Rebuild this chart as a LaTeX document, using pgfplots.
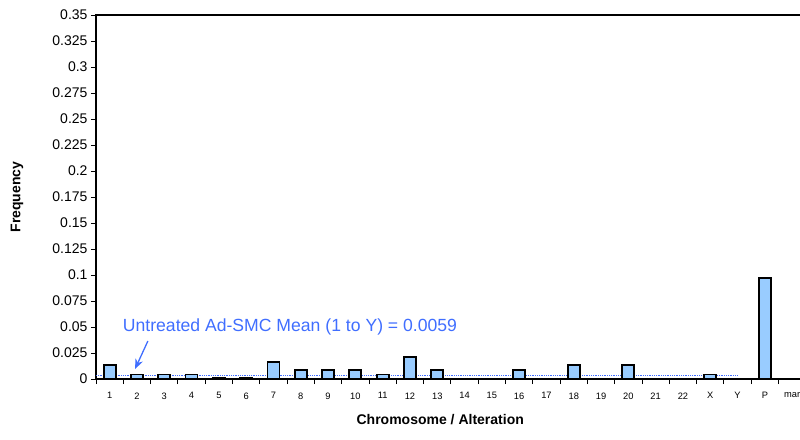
\documentclass[border=0pt]{standalone}
\usepackage{pgfplots}
\pgfplotsset{compat=1.18}
\usetikzlibrary{arrows.meta}
\usepackage{fontspec}
\setmainfont{Liberation Sans}
\definecolor{barblue}{RGB}{153,204,255}
\definecolor{annblue}{RGB}{64,110,255}
\begin{document}
\begin{tikzpicture}
\clip (-96pt,-60pt) rectangle (704pt,379pt);
\begin{scope}[overlay]
\begin{axis}[
  at={(0pt,0pt)}, anchor=south west,
  scale only axis, width=709.8pt, height=364pt,
  xmin=-0.5, xmax=25.5, ymin=0, ymax=0.35,
  axis line style={line width=1.2pt},
  tick pos=left, tick align=outside,
  major tick length=5pt,
  tick style={line width=0.9pt, black},
  /pgf/number format/assume math mode=true,
  xtick={-0.5,0.5,1.5,2.5,3.5,4.5,5.5,6.5,7.5,8.5,9.5,10.5,11.5,12.5,13.5,14.5,15.5,16.5,17.5,18.5,19.5,20.5,21.5,22.5,23.5,24.5,25.5},
  xticklabels={},
  extra x ticks={0,1,2,3,4,5,6,7,8,9,10,11,12,13,14,15,16,17,18,19,20,21,22,23,24,25},
  extra x tick labels={1,2,3,4,5,6,7,8,9,10,11,12,13,14,15,16,17,18,19,20,21,22,X,Y,P,mar},
  extra x tick style={major tick length=0pt, tick style={draw=none}, tick label style={font=\fontsize{9.3}{11}\selectfont, yshift=-10pt}},
  ytick={0,0.025,0.05,0.075,0.1,0.125,0.15,0.175,0.2,0.225,0.25,0.275,0.3,0.325,0.35},
  yticklabels={0,0.025,0.05,0.075,0.1,0.125,0.15,0.175,0.2,0.225,0.25,0.275,0.3,0.325,0.35},
  yticklabel style={font=\fontsize{14}{16}\selectfont},
  xlabel={Chromosome / Alteration},
  ylabel={Frequency},
  every axis x label/.style={at={(rel axis cs:0.485,0)}, yshift=-41pt, anchor=center, font=\bfseries\fontsize{14}{16}\selectfont},
  every axis y label/.style={at={(rel axis cs:0,0.5)}, xshift=-79pt, rotate=90, anchor=center, font=\bfseries\fontsize{14}{16}\selectfont},
]
\addplot[annblue, densely dotted, line width=0.8pt] coordinates {(-0.5,0.0033) (23,0.0033)};
\addplot[ybar, bar width=12pt, fill=barblue, draw=black, line width=1.8pt] coordinates {
(0,0.0132) (1,0.0044) (2,0.0044) (3,0.0044) (4,0.0011) (5,0.0011) (6,0.0167)
(7,0.0085) (8,0.0085) (9,0.0085) (10,0.0044) (11,0.0212) (12,0.0085)
(15,0.0085) (17,0.0132) (19,0.0132) (22,0.0044) (24,0.097)};
\node[anchor=west, text=annblue, font=\fontsize{17.6}{20}\selectfont, inner sep=0pt] at (axis cs:0.48,0.05) {Untreated Ad-SMC Mean (1 to Y) = 0.0059};
\draw[annblue, line width=1.3pt, -{Stealth[length=10pt,width=8pt]}] (axis cs:1.40,0.0365) -- (axis cs:0.93,0.0096);
\end{axis}
\end{scope}
\end{tikzpicture}
\end{document}
